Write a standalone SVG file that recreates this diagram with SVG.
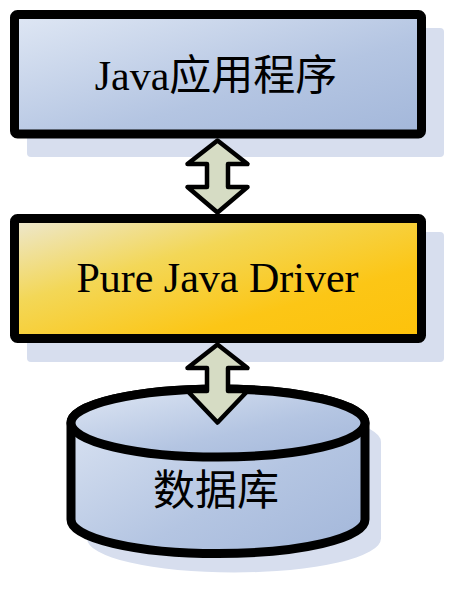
<svg xmlns="http://www.w3.org/2000/svg" width="457" height="592" viewBox="0 0 457 592">
<defs>
<linearGradient id="blue" x1="0" y1="0" x2="1" y2="1">
<stop offset="0" stop-color="#dfe7f4"/>
<stop offset="0.6" stop-color="#b4c5e2"/>
<stop offset="1" stop-color="#a3b7da"/>
</linearGradient>
<linearGradient id="gold" x1="0" y1="0" x2="1" y2="1">
<stop offset="0" stop-color="#ede8d2"/>
<stop offset="0.35" stop-color="#f3d757"/>
<stop offset="0.7" stop-color="#fcc616"/>
<stop offset="1" stop-color="#fdc20a"/>
</linearGradient>
<style>
.shadow{fill:#d7deee}
.box{stroke:#000;stroke-width:9;stroke-linejoin:round}
.arrow{fill:#d6dcc4;stroke:#000;stroke-width:4.5;stroke-linejoin:round}
.label{font-family:"Liberation Serif","Noto Sans CJK SC",serif;font-size:42px;fill:#000;text-anchor:middle}
</style>
</defs>
<g id="shadows">
<rect class="shadow" x="27" y="28" width="417" height="129" rx="4"/>
<rect class="shadow" x="27" y="232" width="417" height="130" rx="4"/>
<path class="shadow" d="M87,442 V538.5 A147,34 0 0 0 381,538.5 V442 A147,34 0 0 0 87,442 Z"/>
</g>
<g id="node-app">
<rect class="box" x="14.5" y="14.5" width="407" height="119.5" rx="3" fill="url(#blue)"/>
<text class="label" x="216" y="90">Java应用程序</text>
</g>
<g id="node-driver">
<rect class="box" x="14.5" y="218.5" width="407" height="120" rx="3" fill="url(#gold)"/>
<text class="label" x="217.5" y="292">Pure Java Driver</text>
</g>
<g id="node-db">
<path class="box" fill="url(#blue)" d="M71,423 V519.5 A147,34 0 0 0 365,519.5 V423 A147,34 0 0 0 71,423 Z"/>
<ellipse class="box" fill="url(#blue)" cx="218" cy="423" rx="147" ry="34"/>
<text class="label" x="216" y="505">数据库</text>
</g>
<g id="connectors">
<path class="arrow" d="M217.5,140.5 L247.5,164 L228,164 L228,187 L247.5,187 L217.5,212.5 L187.5,187 L207,187 L207,164 L187.5,164 Z"/>
<path class="arrow" d="M217.5,344.5 L247.5,368 L228,368 L228,391 L247.5,391 L217.5,422.5 L187.5,391 L207,391 L207,368 L187.5,368 Z"/>
</g>
</svg>
